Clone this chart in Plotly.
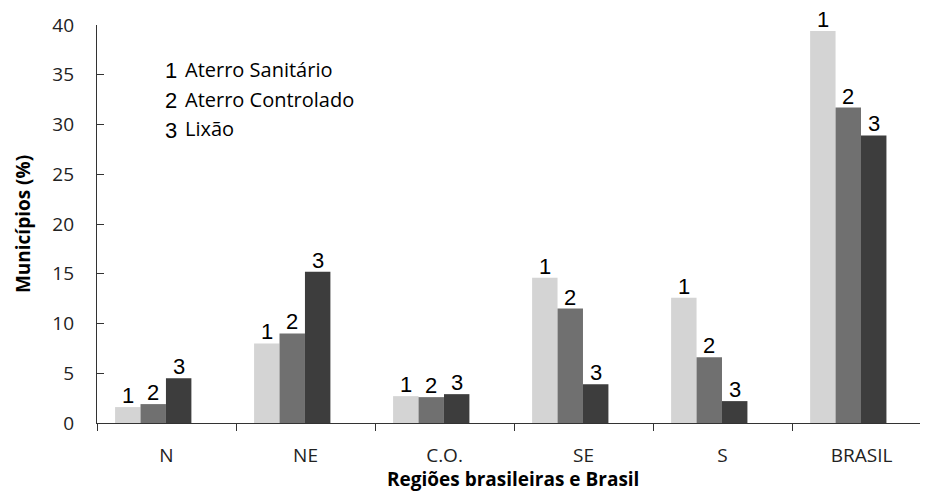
import plotly.graph_objects as go

categories = ["N", "NE", "C.O.", "SE", "S", "BRASIL"]
series_names = ["Aterro Sanitário", "Aterro Controlado", "Lixão"]
series_labels = ["1", "2", "3"]
aterro_sanitario = [1.6, 8.0, 2.7, 14.6, 12.6, 39.4]
aterro_controlado = [1.9, 9.0, 2.6, 11.5, 6.6, 31.7]
lixao = [4.5, 15.2, 2.9, 3.9, 2.2, 28.9]
y_ticks = [0, 5, 10, 15, 20, 25, 30, 35, 40]
x_title = "Regiões brasileiras e Brasil"
y_title = "Municípios (%)"

series_values = [aterro_sanitario, aterro_controlado, lixao]
colors = ["#d4d4d4", "#707070", "#3d3d3d"]
bar_width = 0.183
offsets = [-0.37, -0.187, -0.004]
x_range = [-0.5, 5.478]

fig = go.Figure()
annotations = []
for name, lab, vals, col, off in zip(series_names, series_labels, series_values, colors, offsets):
    fig.add_trace(go.Bar(
        x=categories, y=vals, name=name,
        width=bar_width, offset=off,
        marker=dict(color=col, line=dict(width=0)),
        showlegend=False, hoverinfo="x+y+name",
    ))
    # number labels above bars, on an overlaid numeric axis
    for i, v in enumerate(vals):
        annotations.append(dict(
            x=i + off + bar_width / 2, y=v, xref="x2", yref="y", text=lab,
            showarrow=False, xanchor="center", yanchor="bottom", yshift=-3,
            font=dict(family="Liberation Sans, Arial", size=22, color="#000000"),
        ))

legend_y = [35.4, 32.4, 29.4]
for lab, name, yy in zip(series_labels, series_names, legend_y):
    annotations.append(dict(x=0.089, y=yy, xref="paper", yref="y", text=lab,
                            showarrow=False, xanchor="center", yanchor="middle",
                            font=dict(family="Liberation Sans, Arial", size=22, color="#000000")))
    annotations.append(dict(x=0.1035, y=yy + 0.15, xref="paper", yref="y", text=name,
                            showarrow=False, xanchor="left", yanchor="middle",
                            font=dict(family="Open Sans", size=20, color="#000000")))

# x-axis title as annotation below tick labels
annotations.append(dict(x=0.5, y=0, xref="paper", yref="paper", text="<b>" + x_title + "</b>",
                        showarrow=False, xanchor="center", yanchor="middle", yshift=-56,
                        borderpad=0,
                        font=dict(family="Open Sans", size=19, color="#000000")))

# invisible helper trace so that the numeric overlay axis exists
fig.add_trace(go.Scatter(x=x_range, y=[0, 0], xaxis="x2", mode="none",
                         showlegend=False, hoverinfo="skip"))

fig.update_layout(
    width=920, height=483,
    margin=dict(l=89, r=0, t=17, b=68),
    paper_bgcolor="white", plot_bgcolor="white",
    barmode="overlay",
    font=dict(family="Open Sans", size=19, color="#222222"),
    annotations=annotations,
    xaxis=dict(
        type="category", range=x_range, automargin=False,
        showline=True, linecolor="#333333", linewidth=1.2,
        ticks="outside", ticklen=7, tickcolor="#333333", tickson="boundaries",
        showgrid=False, zeroline=False,
        tickfont=dict(family="Open Sans", size=19, color="#222222"),
        ticklabelstandoff=15,
    ),
    xaxis2=dict(
        overlaying="x", range=x_range, visible=False, showgrid=False, zeroline=False,
    ),
    yaxis=dict(
        range=[0, 40], tickvals=y_ticks, automargin=False,
        showline=True, linecolor="#333333", linewidth=1.2,
        ticks="inside", ticklen=7, tickcolor="#333333",
        showgrid=False, zeroline=False,
        tickfont=dict(family="Open Sans", size=19, color="#222222"),
        ticklabelstandoff=18,
        title=dict(text="<b>" + y_title + "</b>", standoff=16,
                   font=dict(family="Open Sans", size=19, color="#000000")),
    ),
)

fig.write_html("out.html")
